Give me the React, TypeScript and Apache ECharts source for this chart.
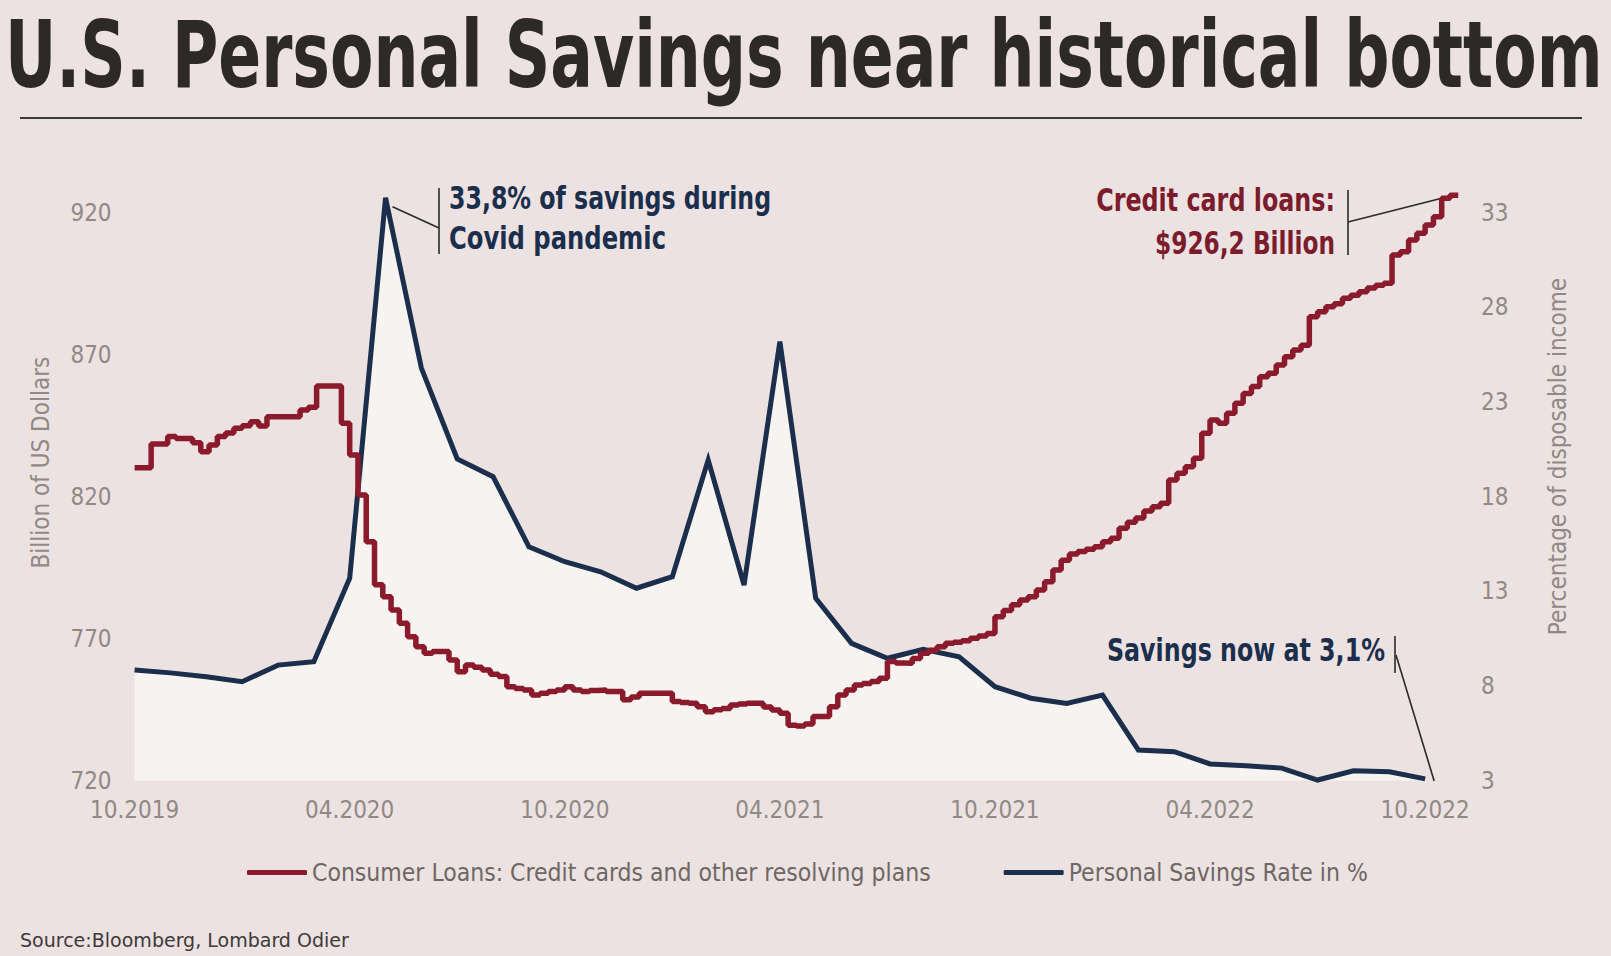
import React, { useEffect, useRef } from "react";
import * as echarts from "echarts";

// x axis runs in months from 10.2019 (0) to ~11.2022
const tickLabels = ["10.2019", "04.2020", "10.2020", "04.2021", "10.2021", "04.2022", "10.2022"];
const leftTicks = [720, 770, 820, 870, 920];
const rightTicks = [3, 8, 13, 18, 23, 28, 33];

// monthly personal savings rate, %, 09.2019 .. 09.2022
const savingsRate = [
  8.85, 8.7, 8.5, 8.23, 9.11, 9.29, 13.7, 33.8, 24.8, 20.0, 19.06, 15.36, 14.57, 14.04, 13.17, 13.78,
  19.94, 13.34, 26.2, 12.64, 10.26, 9.47, 9.94, 9.55, 7.97, 7.36, 7.09, 7.53, 4.63, 4.54, 3.89, 3.8,
  3.67, 3.04, 3.53, 3.48, 3.1,
];

// weekly consumer revolving credit, bn USD
const creditCardLoans = [
  830.2, 830.2, 838.6, 838.6, 841.2, 840.5, 840.5, 839.0, 835.9, 838.2,
  841.2, 842.5, 844.1, 845.0, 846.4, 844.9, 848.2, 848.2, 848.2, 848.2,
  850.6, 851.5, 859.0, 859.0, 859.0, 845.9, 834.7, 820.6, 804.2, 789.0,
  784.8, 780.1, 775.5, 770.7, 767.2, 764.9, 765.5, 765.5, 762.5, 758.4,
  760.8, 760.0, 759.0, 757.5, 756.7, 753.1, 752.5, 752.0, 750.2, 750.8,
  751.4, 752.0, 753.1, 752.0, 751.4, 751.8, 752.0, 751.4, 751.4, 748.5,
  749.5, 750.8, 750.8, 750.8, 750.8, 747.9, 747.6, 747.3, 746.1, 744.3,
  745.0, 745.5, 746.7, 747.0, 747.3, 747.3, 746.0, 744.9, 743.8, 739.6,
  739.3, 740.0, 742.6, 742.6, 746.1, 750.2, 752.0, 753.7, 754.3, 755.0,
  756.1, 762.0, 761.5, 761.4, 763.1, 764.9, 766.0, 767.2, 768.4, 768.8,
  769.3, 770.2, 771.0, 771.9, 777.8, 780.0, 782.0, 783.7, 784.8, 787.2,
  790.1, 794.2, 797.7, 799.9, 800.7, 801.5, 802.4, 804.2, 805.4, 808.9,
  811.0, 812.5, 815.0, 816.5, 817.7, 825.9, 828.3, 830.6, 833.6, 842.4,
  847.0, 845.9, 849.4, 852.9, 856.4, 858.8, 862.3, 863.5, 866.4, 869.3,
  871.7, 873.4, 883.4, 885.2, 886.9, 888.0, 889.9, 891.0, 892.2, 893.5,
  894.5, 895.2, 905.1, 906.3, 910.4, 912.8, 915.7, 918.6, 925.1, 926.2,
  926.2,
];

const LOANS_NAME = "Consumer Loans: Credit cards and other resolving plans";
const SAVINGS_NAME = "Personal Savings Rate in %";

const BG = "#ebe2e1";
const NAVY = "#1b2e4c";
const WINE = "#8a1a2c";
const GREY = "#918985";
const COND = "'Liberation Sans Narrow', 'Arial Narrow', 'DejaVu Sans Condensed', 'Roboto', sans-serif";

const measure = (text: string, font: string) => {
  const ctx = document.createElement("canvas").getContext("2d");
  if (!ctx) return 1;
  ctx.font = font;
  return ctx.measureText(text).width;
};

// text squeezed to a given width
const fitText = (
  text: string,
  x: number,
  y: number,
  width: number,
  size: number,
  weight: string,
  color: string,
  align: "left" | "right" = "left"
) => {
  const w = measure(text, `${weight} ${size}px ${COND}`);
  return {
    type: "text",
    x,
    y,
    scaleX: width / w,
    silent: true,
    style: {
      text,
      fontFamily: COND,
      fontSize: size,
      fontWeight: weight,
      lineHeight: size,
      fill: color,
      align,
      verticalAlign: "middle",
    },
  };
};

const bar = (x: number, y1: number, y2: number) => ({
  type: "line",
  silent: true,
  shape: { x1: x, y1, x2: x, y2 },
  style: { stroke: "#2a2a2a", lineWidth: 1.6 },
});

const link = (a: number[], b: number[]) => ({
  type: "line",
  silent: true,
  shape: { x1: a[0], y1: a[1], x2: b[0], y2: b[1] },
  style: { stroke: "#2a2a2a", lineWidth: 1.6 },
});

const SavingsChart: React.FC = () => {
  const chartRef = useRef<HTMLDivElement>(null);

  useEffect(() => {
    if (!chartRef.current) return;
    const chart = echarts.init(chartRef.current, null, { renderer: "svg" });

    const savingsData = savingsRate.map((v, i) => [i, v]);
    const loansData = creditCardLoans.map((v, i) => [(i * 12) / 52, v]);

    const option = {
      animation: false,
      backgroundColor: BG,
      grid: {
        left: 134.6,
        right: 150,
        top: 184.4,
        bottom: 175.2,
        containLabel: false,
        outerBoundsMode: "none",
      },
      legend: {
        top: 860,
        left: 247,
        padding: 0,
        itemWidth: 60,
        itemHeight: 5,
        itemGap: 73,
        icon: "roundRect",
        textStyle: { fontFamily: COND, fontSize: 24.5, color: "#6e6764" },
        data: [LOANS_NAME, SAVINGS_NAME],
      },
      xAxis: {
        type: "value",
        min: 0,
        max: 37,
        interval: 1,
        axisLine: { show: false },
        axisTick: { show: false },
        splitLine: { show: false },
        axisLabel: {
          margin: 17,
          color: GREY,
          fontFamily: COND,
          fontSize: 24,
          showMaxLabel: false,
          formatter: (v: number) => (v % 6 === 0 ? tickLabels[v / 6] : ""),
        },
      },
      yAxis: [
        {
          type: "value",
          min: 720,
          max: 930,
          interval: 10,
          name: "Billion of US Dollars",
          nameLocation: "middle",
          nameRotate: 90,
          nameGap: 82,
          nameTextStyle: { fontFamily: COND, fontSize: 24, color: GREY, padding: [0, 0, 0, 40] },
          axisLine: { show: false },
          axisTick: { show: false },
          splitLine: { show: false },
          axisLabel: {
            margin: 23,
            color: GREY,
            fontFamily: COND,
            fontSize: 24,
            formatter: (v: number) => (leftTicks.includes(v) ? String(v) : ""),
          },
        },
        {
          type: "value",
          min: 3,
          max: 34.5,
          interval: 1,
          position: "right",
          name: "Percentage of disposable income",
          nameLocation: "middle",
          nameRotate: 90,
          nameGap: 85,
          nameTextStyle: { fontFamily: COND, fontSize: 24, color: GREY, padding: [0, 0, 0, 52] },
          axisLine: { show: false },
          axisTick: { show: false },
          splitLine: { show: false },
          axisLabel: {
            margin: 20,
            color: GREY,
            fontFamily: COND,
            fontSize: 24,
            formatter: (v: number) => (rightTicks.includes(v) ? String(v) : ""),
          },
        },
      ],
      series: [
        {
          name: "savings-area",
          type: "line",
          yAxisIndex: 1,
          data: savingsData,
          symbol: "none",
          silent: true,
          lineStyle: { width: 0 },
          areaStyle: { color: "#f6f3f0", opacity: 1, origin: "start" },
          z: 1,
        },
        {
          name: SAVINGS_NAME,
          type: "line",
          yAxisIndex: 1,
          data: savingsData,
          symbol: "none",
          color: NAVY,
          lineStyle: { color: NAVY, width: 5, join: "miter" },
          z: 3,
        },
        {
          name: LOANS_NAME,
          type: "line",
          yAxisIndex: 0,
          step: "end",
          data: loansData,
          symbol: "none",
          color: WINE,
          lineStyle: { color: WINE, width: 5.5 },
          z: 4,
        },
      ],
    };

    chart.setOption(option);

    const peak = chart.convertToPixel({ seriesIndex: 1 }, savingsData[7]) as number[];
    const last = chart.convertToPixel({ seriesIndex: 1 }, savingsData[savingsData.length - 1]) as number[];
    const top = chart.convertToPixel({ seriesIndex: 2 }, loansData[loansData.length - 3]) as number[];

    chart.setOption({
      graphic: [
        fitText("U.S. Personal Savings near historical bottom", 5, 55, 1598, 92, "bold", "#2d2926"),
        {
          type: "line",
          silent: true,
          shape: { x1: 20, y1: 118, x2: 1582, y2: 118 },
          style: { stroke: "#3a3a3a", lineWidth: 2 },
        },
        // covid peak
        fitText("33,8% of savings during", 449, 198, 322, 32, "bold", NAVY),
        fitText("Covid pandemic", 449, 238, 217, 32, "bold", NAVY),
        bar(439, 188, 254),
        link([peak[0] + 7, peak[1] + 9], [439, 228]),
        // credit card loans
        fitText("Credit card loans:", 1335, 200, 239, 32, "bold", "#7b1c2d", "right"),
        fitText("$926,2 Billion", 1335, 243, 180, 32, "bold", "#7b1c2d", "right"),
        bar(1348, 190, 255),
        link([1348, 222], [top[0], top[1]]),
        // savings now
        fitText("Savings now at 3,1%", 1107, 650, 278, 32, "bold", NAVY),
        bar(1395, 636, 673),
        link([1396, 655], [last[0] + 9, last[1] + 2]),
        fitText("Source:Bloomberg, Lombard Odier", 20, 940, 329, 20, "normal", "#3e3a39"),
      ],
    });

    return () => {
      chart.dispose();
    };
  }, []);

  return (
    <div
      ref={chartRef}
      style={{ position: "fixed", left: 0, top: 0, width: 1611, height: 956, background: BG }}
    />
  );
};

export default function App() {
  return <SavingsChart />;
}
